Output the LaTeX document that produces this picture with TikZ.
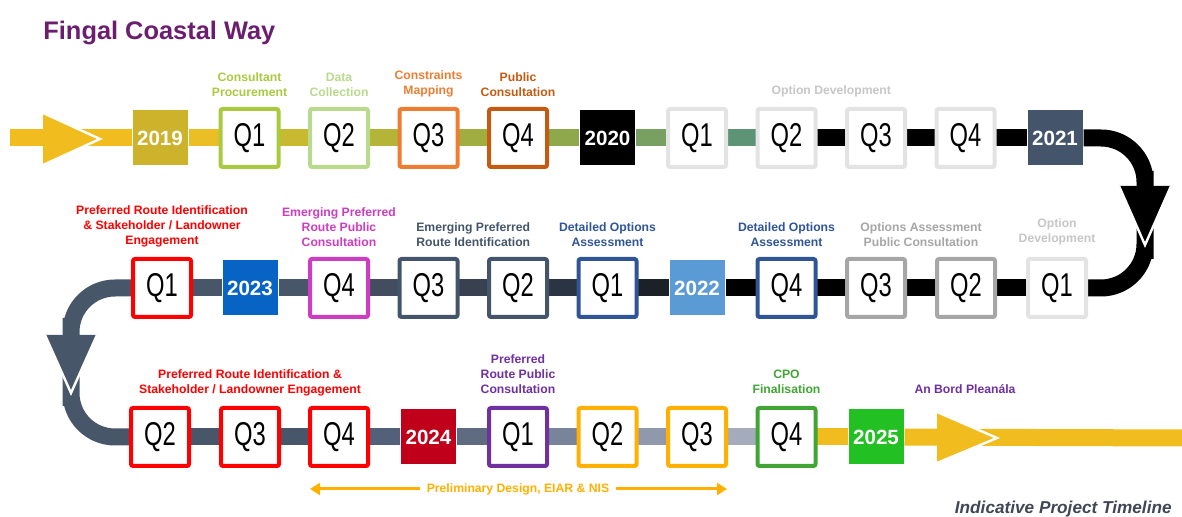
\documentclass[tikz,border=0pt]{standalone}
\usepackage{fontspec}
\setmainfont{Liberation Sans}
\usetikzlibrary{positioning,calc,backgrounds,arrows.meta}

\definecolor{cyellow}{HTML}{F0BC1E}
\definecolor{c2019}{HTML}{CDB22B}
\definecolor{c2021}{HTML}{44546A}
\definecolor{c2022}{HTML}{5B9BD5}
\definecolor{c2023}{HTML}{0864C4}
\definecolor{c2024}{HTML}{C0001A}
\definecolor{c2025}{HTML}{22C022}
\definecolor{ctitle}{HTML}{6B1D6E}
\definecolor{ccaption}{HTML}{404656}
\definecolor{cq19a}{HTML}{A9C93E}
\definecolor{cq19b}{HTML}{B9D98C}
\definecolor{cq19c}{HTML}{EE7D31}
\definecolor{cq19d}{HTML}{C55A11}
\definecolor{clight}{HTML}{E3E3E3}
\definecolor{clighttxt}{HTML}{C6C6C6}
\definecolor{cgray}{HTML}{A6A6A6}
\definecolor{cblue}{HTML}{2F5597}
\definecolor{cslate}{HTML}{44546A}
\definecolor{cmagenta}{HTML}{CC3DC0}
\definecolor{cred}{HTML}{FF0000}
\definecolor{cpurple}{HTML}{7030A0}
\definecolor{camber}{HTML}{FFB000}
\definecolor{cgreen}{HTML}{40A535}
% colours of the band, segment by segment
\definecolor{seg1}{HTML}{EBBE26}
\definecolor{seg2}{HTML}{C8B930}
\definecolor{seg3}{HTML}{B4B438}
\definecolor{seg4}{HTML}{A0AE40}
\definecolor{seg5}{HTML}{8EA84C}
\definecolor{seg6}{HTML}{78A062}
\definecolor{seg7}{HTML}{5E9476}
\definecolor{seg8}{HTML}{1B2029}
\definecolor{seg9}{HTML}{2B3442}
\definecolor{seg10}{HTML}{37414F}
\definecolor{seg11}{HTML}{424E5F}
\definecolor{seg12}{HTML}{485669}
\definecolor{seg13}{HTML}{52607A}
\definecolor{seg14}{HTML}{5E6B80}
\definecolor{seg15}{HTML}{78849A}
\definecolor{seg16}{HTML}{8F99AB}
\definecolor{seg17}{HTML}{A4ACBB}

\newcommand{\qlabel}[1]{\scalebox{0.72}[1]{Q#1}}

\begin{document}
\begin{tikzpicture}[x=0.5pt, y=-0.5pt,
  qbox/.style={rectangle, draw=#1, fill=white, line width=2pt, rounded corners=1pt,
    minimum size=29pt, inner sep=0pt, outer sep=0pt, font=\fontsize{16.5}{16.5}\selectfont},
  yearbox/.style={rectangle, fill=#1, minimum size=27.5pt, inner sep=0pt, outer sep=0pt,
    text=white, font=\fontsize{10.3}{10.3}\selectfont\bfseries},
  lbl/.style={text=#1, align=center, inner sep=0pt,
    font=\fontsize{6.1}{7.5}\selectfont\bfseries},
  band/.style={draw=#1, line width=8.5pt, shorten <=0.5pt, shorten >=0.5pt},
  span/.style={draw=camber, line width=1.5pt, shorten <=3pt,
    -{Triangle[length=5pt,width=6pt]}}]
\useasboundingbox (0, 0) rectangle (1182, 517);

\node at (43, 40) (title) [anchor=base west, inner sep=0pt, text=ctitle,
  font=\fontsize{12.7}{12.7}\selectfont\bfseries] {Fingal Coastal Way};

% first row, left to right
\node at (160, 138)    (y2019) [yearbox=c2019] {2019};
\node at (249.5, 138)  (q19a)  [qbox=cq19a] {\qlabel{1}};
\node at (339, 138)    (q19b)  [qbox=cq19b] {\qlabel{2}};
\node at (428.5, 138)  (q19c)  [qbox=cq19c] {\qlabel{3}};
\node at (518, 138)    (q19d)  [qbox=cq19d] {\qlabel{4}};
\node at (607.5, 138)  (y2020) [yearbox=black] {2020};
\node at (697, 138)    (q20a)  [qbox=clight] {\qlabel{1}};
\node at (786.5, 138)  (q20b)  [qbox=clight] {\qlabel{2}};
\node at (876, 138)    (q20c)  [qbox=clight] {\qlabel{3}};
\node at (965.5, 138)  (q20d)  [qbox=clight] {\qlabel{4}};
\node at (1055, 138)   (y2021) [yearbox=c2021] {2021};

% second row, right to left
\node at (1057, 288)   (q21a)  [qbox=clight] {\qlabel{1}};
\node at (966, 288)    (q21b)  [qbox=cgray] {\qlabel{2}};
\node at (876, 288)    (q21c)  [qbox=cgray] {\qlabel{3}};
\node at (786.5, 288)  (q21d)  [qbox=cblue] {\qlabel{4}};
\node at (697, 288)    (y2022) [yearbox=c2022] {2022};
\node at (607.5, 288)  (q22a)  [qbox=cblue] {\qlabel{1}};
\node at (518, 288)    (q22b)  [qbox=cslate] {\qlabel{2}};
\node at (428.5, 288)  (q22c)  [qbox=cslate] {\qlabel{3}};
\node at (339, 288)    (q22d)  [qbox=cmagenta] {\qlabel{4}};
\node at (250, 288)    (y2023) [yearbox=c2023] {2023};
\node at (162, 288)    (q23a)  [qbox=cred] {\qlabel{1}};

% third row, left to right
\node at (160, 437)    (q23b)  [qbox=cred] {\qlabel{2}};
\node at (250, 437)    (q23c)  [qbox=cred] {\qlabel{3}};
\node at (339, 437)    (q23d)  [qbox=cred] {\qlabel{4}};
\node at (428.5, 437)  (y2024) [yearbox=c2024] {2024};
\node at (518, 437)    (q24a)  [qbox=cpurple] {\qlabel{1}};
\node at (607.5, 437)  (q24b)  [qbox=camber] {\qlabel{2}};
\node at (697, 437)    (q24c)  [qbox=camber] {\qlabel{3}};
\node at (786.5, 437)  (q24d)  [qbox=cgreen] {\qlabel{4}};
\node at (876, 437)    (y2025) [yearbox=c2025] {2025};

\coordinate (start)  at (9, 138);
\coordinate (finish) at (1192, 438);
\coordinate (arrowA) at (70, 139);
\coordinate (arrowB) at (965, 438);
\coordinate (turnR)  at (1145, 215);
\coordinate (turnL)  at (71, 362);
\coordinate (m20) at ($(q20b.north)!0.5!(q20c.north)$);
\coordinate (m21) at ($(q21b.north)!0.5!(q21c.north)$);
\coordinate (m22) at ($(q22b.north)!0.5!(q22c.north)$);
\coordinate (abp) at (arrowB |- q24d.north);

% phase labels
\node (l19a) [lbl=cq19a, above=6pt of q19a] {Consultant\\Procurement};
\node (l19b) [lbl=cq19b, above=6pt of q19b] {Data\\Collection};
\node (l19c) [lbl=cq19c, above=6pt of q19c] {Constraints\\Mapping};
\node (l19d) [lbl=cq19d, above=6pt of q19d] {Public\\Consultation};
\node (l20)  [lbl=clighttxt, above=6pt of m20] {Option Development};
\node (l21a) [lbl=clighttxt, above=7pt of q21a] {Option\\Development};
\node (l21b) [lbl=cgray, above=6pt of m21] {Options Assessment\\Public Consultation};
\node (l21d) [lbl=cblue, above=6pt of q21d] {Detailed Options\\Assessment};
\node (l22a) [lbl=cblue, above=6pt of q22a] {Detailed Options\\Assessment};
\node (l22b) [lbl=cslate, above=6pt of m22] {Emerging Preferred\\Route Identification};
\node (l22d) [lbl=cmagenta, above=6pt of q22d] {Emerging Preferred\\Route Public\\Consultation};
\node (l23a) [lbl=cred, above=6pt of q23a] {Preferred Route Identification\\\& Stakeholder / Landowner\\Engagement};
\node (l23c) [lbl=cred, above=6pt of q23c] {Preferred Route Identification \&\\Stakeholder / Landowner Engagement};
\node (l24a) [lbl=cpurple, above=7pt of q24a] {Preferred\\Route Public\\Consultation};
\node (l24d) [lbl=cgreen, above=7pt of q24d] {CPO\\Finalisation};
\node (lbp)  [lbl=cpurple, above=7pt of abp] {An Bord Plean\'ala};

% design span
\node at (518, 489) (prelim) [lbl=camber] {Preliminary Design, EIAR \& NIS};
\coordinate (prelimL) at (310, 489);
\coordinate (prelimR) at (727, 489);
\draw [span] (prelim.west) -- (prelimL);
\draw [span] (prelim.east) -- (prelimR);

\node at (1172, 513) (caption) [anchor=base east, inner sep=0pt, text=ccaption,
  font=\fontsize{8.6}{8.6}\selectfont\bfseries\itshape] {Indicative Project Timeline};

\begin{scope}[on background layer]
\draw [band=cyellow] (start) -- (y2019);
\draw [band=seg1] (y2019) -- (q19a);
\draw [band=seg2] (q19a) -- (q19b);
\draw [band=seg3] (q19b) -- (q19c);
\draw [band=seg4] (q19c) -- (q19d);
\draw [band=seg5] (q19d) -- (y2020);
\draw [band=seg6] (y2020) -- (q20a);
\draw [band=seg7] (q20a) -- (q20b);
\draw [band=black] (q20b) -- (q20c);
\draw [band=black] (q20c) -- (q20d);
\draw [band=black] (q20d) -- (y2021);
\draw [band=black, rounded corners=22pt] (y2021) -| (turnR) |- (q21a);
\draw [band=black] (q21a) -- (q21b);
\draw [band=black] (q21b) -- (q21c);
\draw [band=black] (q21c) -- (q21d);
\draw [band=black] (q21d) -- (y2022);
\draw [band=seg8] (y2022) -- (q22a);
\draw [band=seg9] (q22a) -- (q22b);
\draw [band=seg10] (q22b) -- (q22c);
\draw [band=seg11] (q22c) -- (q22d);
\draw [band=seg12] (q22d) -- (y2023);
\draw [band=seg12] (y2023) -- (q23a);
\draw [band=seg12, rounded corners=22pt] (q23a) -| (turnL) |- (q23b);
\draw [band=seg12] (q23b) -- (q23c);
\draw [band=seg12] (q23c) -- (q23d);
\draw [band=seg13] (q23d) -- (y2024);
\draw [band=seg14] (y2024) -- (q24a);
\draw [band=seg15] (q24a) -- (q24b);
\draw [band=seg16] (q24b) -- (q24c);
\draw [band=seg17] (q24c) -- (q24d);
\draw [band=cyellow] (q24d) -- (y2025);
\draw [band=cyellow] (y2025) -- (finish);

% direction heads
\fill [cyellow] (arrowA) ++(-27,-26) -- ++(0,52) -- ++(57,-26) -- cycle;
\draw [white, line width=1.2pt] (arrowA) ++(-27,-26) -- ++(57,26) -- ++(-57,26);
\fill [black] (turnR) ++(-26,-29) -- ++(52,0) -- ++(-26,59) -- cycle;
\draw [white, line width=1.2pt] (turnR) ++(-26,-29) -- ++(26,59) -- ++(26,-59);
\fill [seg12] (turnL) ++(-26,-27) -- ++(52,0) -- ++(-26,58) -- cycle;
\draw [white, line width=1.2pt] (turnL) ++(-26,-27) -- ++(26,58) -- ++(26,-58);
\fill [cyellow] (arrowB) ++(-28,-26) -- ++(0,51) -- ++(60,-25) -- cycle;
\draw [white, line width=1.2pt] (arrowB) ++(-28,-26) -- ++(60,26) -- ++(-60,25);
\end{scope}
\end{tikzpicture}
\end{document}
